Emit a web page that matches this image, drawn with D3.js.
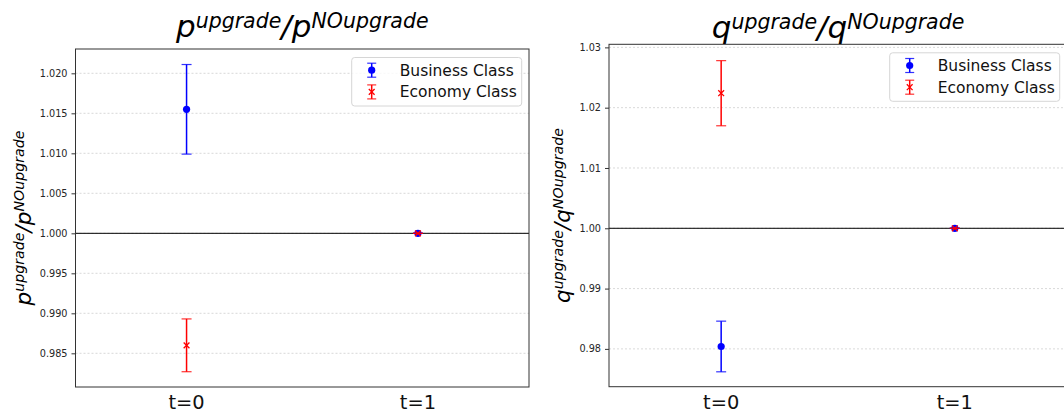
<!DOCTYPE html>
<html>
<head>
<meta charset="utf-8">
<script src="https://cdn.jsdelivr.net/npm/d3@7"></script>
<style>
  body { margin: 0; background: #fff; }
  svg { display: block; font-family: "DejaVu Sans", sans-serif; }
</style>
</head>
<body>
<div id="chart"></div>
<script>
// categories and series
const times = ["t=0", "t=1"];
const timeIdx = [0, 1];

const pBusiness = [1.0155, 1.0];
const pBusinessErr = [0.0056, 0];
const pEconomy = [0.9860, 1.0];
const pEconomyErr = [0.0033, 0];

const qBusiness = [0.9804, 1.0];
const qBusinessErr = [0.0042, 0];
const qEconomy = [1.0224, 1.0];
const qEconomyErr = [0.0054, 0];

const pTicks = [0.985, 0.990, 0.995, 1.000, 1.005, 1.010, 1.015, 1.020];
const qTicks = [0.98, 0.99, 1.00, 1.01, 1.02, 1.03];

const seriesNames = ["Business Class", "Economy Class"];

const W = 1064, H = 414;
const svg = d3.select("#chart").append("svg")
    .attr("width", W).attr("height", H);

// math-like label: big letter, superscript, slash ...
function mathText(g, letter, size, supSize) {
    const parts = [
        { t: letter, sup: false },
        { t: "upgrade", sup: true },
        { t: "/", sup: false },
        { t: letter, sup: false },
        { t: "NOupgrade", sup: true },
    ];
    const shift = size * 0.3;
    let prevSup = false;
    parts.forEach((p) => {
        let dy = 0;
        if (p.sup && !prevSup) dy = -shift;
        if (!p.sup && prevSup) dy = shift;
        g.append("tspan")
            .attr("dy", dy)
            .attr("font-size", p.sup ? supSize : size)
            .text(p.t);
        prevSup = p.sup;
    });
}

function drawPanel(opts) {
    const { left, right, top, bottom, yDomain, ticks, tickFmt,
            business, businessErr, economy, economyErr, letter, titleY, ylabelX } = opts;

    const x = d3.scaleLinear().domain([-0.48, 1.48]).range([left, right]);
    const y = d3.scaleLinear().domain(yDomain).range([bottom, top]);

    const g = svg.append("g");

    // grid
    g.selectAll(".grid").data(ticks).join("line")
        .attr("x1", left).attr("x2", right)
        .attr("y1", (d) => y(d)).attr("y2", (d) => y(d))
        .attr("stroke", "#cfcfcf").attr("stroke-width", 0.8)
        .attr("stroke-dasharray", "2,2");

    // reference line at 1
    g.append("line")
        .attr("x1", left).attr("x2", right)
        .attr("y1", y(1)).attr("y2", y(1))
        .attr("stroke", "#000").attr("stroke-width", 1);

    // y axis
    const yAxis = g.append("g")
        .attr("transform", `translate(${left},0)`)
        .call(d3.axisLeft(y).tickValues(ticks).tickFormat(tickFmt).tickSize(4).tickPadding(4));
    yAxis.select(".domain").remove();
    yAxis.selectAll("line").attr("stroke", "#333");
    yAxis.selectAll("text").attr("font-size", 9.7).attr("fill", "#262626")
        .attr("font-family", "DejaVu Sans");

    // x tick labels
    g.selectAll(".xt").data(timeIdx).join("text")
        .attr("x", (d) => x(d)).attr("y", 409)
        .attr("text-anchor", "middle")
        .attr("font-size", 19.4).attr("fill", "#111")
        .text((d) => times[d]);

    // frame
    g.append("rect")
        .attr("x", left).attr("y", top)
        .attr("width", right - left).attr("height", bottom - top)
        .attr("fill", "none").attr("stroke", "#333").attr("stroke-width", 1);

    // error bars + markers
    const series = [
        { vals: business, errs: businessErr, color: "#0000ff", marker: "o" },
        { vals: economy, errs: economyErr, color: "#ff0000", marker: "x" },
    ];
    series.forEach((s) => {
        timeIdx.forEach((i) => {
            const cx = x(i);
            const y0 = y(s.vals[i] - s.errs[i]);
            const y1 = y(s.vals[i] + s.errs[i]);
            g.append("line").attr("x1", cx).attr("x2", cx).attr("y1", y0).attr("y2", y1)
                .attr("stroke", s.color).attr("stroke-width", 1.5);
            [y0, y1].forEach((yy) => {
                g.append("line").attr("x1", cx - 5).attr("x2", cx + 5)
                    .attr("y1", yy).attr("y2", yy)
                    .attr("stroke", s.color).attr("stroke-width", 1.2).attr("opacity", 0.8);
            });
            drawMarker(g, s.marker, cx, y(s.vals[i]), s.color);
        });
    });

    // legend
    const lw = 170, lh = 48.5;
    const lx = right - 7.3 - lw, ly = top + 8.5;
    const lg = g.append("g");
    lg.append("rect").attr("x", lx).attr("y", ly).attr("width", lw).attr("height", lh)
        .attr("rx", 3).attr("fill", "#fff").attr("fill-opacity", 0.8)
        .attr("stroke", "#d6d6d6").attr("stroke-width", 1);
    series.forEach((s, k) => {
        const ry = ly + 12.7 + k * 21.7;
        const mx = lx + 20;
        lg.append("line").attr("x1", mx).attr("x2", mx).attr("y1", ry - 7).attr("y2", ry + 7)
            .attr("stroke", s.color).attr("stroke-width", 1.5);
        [ry - 7, ry + 7].forEach((yy) => {
            lg.append("line").attr("x1", mx - 4.5).attr("x2", mx + 4.5).attr("y1", yy).attr("y2", yy)
                .attr("stroke", s.color).attr("stroke-width", 1.2).attr("opacity", 0.8);
        });
        drawMarker(lg, s.marker, mx, ry, s.color);
        lg.append("text").attr("x", lx + 48).attr("y", ry + 5.5)
            .attr("font-size", 15.5).attr("fill", "#111")
            .text(seriesNames[k]);
    });

    // title
    const title = g.append("text")
        .attr("x", (left + right) / 2).attr("y", titleY)
        .attr("text-anchor", "middle").attr("font-style", "italic").attr("fill", "#000");
    mathText(title, letter, 31, 20.5);

    // y label
    const yl = g.append("text")
        .attr("transform", `translate(${ylabelX},${(top + bottom) / 2}) rotate(-90)`)
        .attr("text-anchor", "middle").attr("font-style", "italic").attr("fill", "#000");
    mathText(yl, letter, 21.5, 14.2);
}

function drawMarker(g, type, cx, cy, color) {
    if (type === "o") {
        g.append("circle").attr("cx", cx).attr("cy", cy).attr("r", 3.6).attr("fill", color);
    } else {
        const r = 2.9;
        g.append("path")
            .attr("d", `M${cx - r},${cy - r}L${cx + r},${cy + r}M${cx - r},${cy + r}L${cx + r},${cy - r}`)
            .attr("stroke", color).attr("stroke-width", 1.3).attr("fill", "none");
    }
}

drawPanel({
    left: 75.5, right: 529, top: 49, bottom: 387,
    yDomain: [0.98079, 1.02304], ticks: pTicks, tickFmt: d3.format(".3f"),
    business: pBusiness, businessErr: pBusinessErr,
    economy: pEconomy, economyErr: pEconomyErr,
    letter: "p", titleY: 37, ylabelX: 30.5,
});

drawPanel({
    left: 609, right: 1067, top: 44.3, bottom: 386.7,
    yDomain: [0.97373, 1.03051], ticks: qTicks, tickFmt: d3.format(".2f"),
    business: qBusiness, businessErr: qBusinessErr,
    economy: qEconomy, economyErr: qEconomyErr,
    letter: "q", titleY: 38, ylabelX: 569.5,
});
</script>
</body>
</html>
